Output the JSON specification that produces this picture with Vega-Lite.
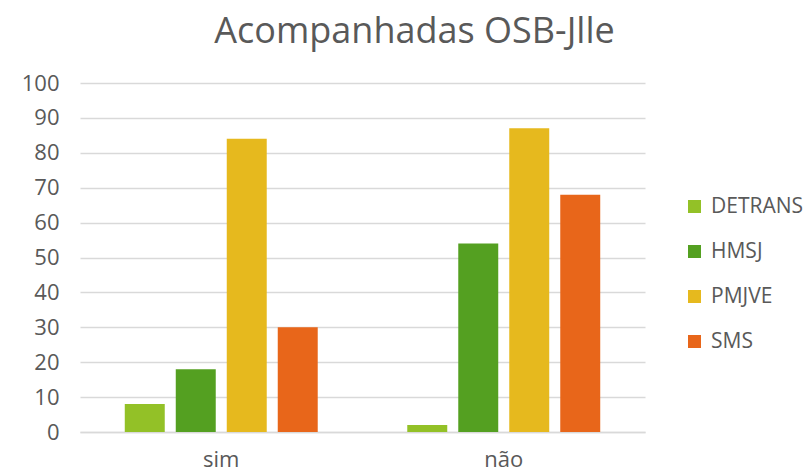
{
  "$schema": "https://vega.github.io/schema/vega-lite/v6.json",
  "width": 565,
  "height": 349,
  "autosize": "none",
  "padding": {"left": 80, "top": 83, "right": 160, "bottom": 40},
  "background": "white",
  "title": {
    "text": "Acompanhadas OSB-Jlle",
    "font": "Open Sans",
    "fontSize": 36,
    "fontWeight": "normal",
    "color": "#595959",
    "anchor": "middle",
    "frame": "group",
    "dx": 52,
    "offset": 21
  },
  "data": {
    "values": [
      {"cat": "sim", "serie": "DETRANS", "v": 8},
      {"cat": "sim", "serie": "HMSJ", "v": 18},
      {"cat": "sim", "serie": "PMJVE", "v": 84},
      {"cat": "sim", "serie": "SMS", "v": 30},
      {"cat": "não", "serie": "DETRANS", "v": 2},
      {"cat": "não", "serie": "HMSJ", "v": 54},
      {"cat": "não", "serie": "PMJVE", "v": 87},
      {"cat": "não", "serie": "SMS", "v": 68}
    ]
  },
  "mark": {"type": "bar"},
  "encoding": {
    "x": {
      "field": "cat",
      "type": "nominal",
      "sort": ["sim", "não"],
      "scale": {"paddingInner": 0, "paddingOuter": 0},
      "axis": {
        "title": null,
        "labelAngle": 0,
        "labelFont": "Open Sans",
        "labelFontSize": 22,
        "labelColor": "#595959",
        "labelPadding": 17,
        "ticks": false,
        "domainColor": "#d9d9d9",
        "domainWidth": 1.5
      }
    },
    "xOffset": {
      "field": "serie",
      "type": "nominal",
      "sort": ["DETRANS", "HMSJ", "PMJVE", "SMS"],
      "scale": {"paddingInner": 0.216, "paddingOuter": 0.878}
    },
    "y": {
      "field": "v",
      "type": "quantitative",
      "scale": {"domain": [0, 100], "nice": false},
      "axis": {
        "title": null,
        "values": [0, 10, 20, 30, 40, 50, 60, 70, 80, 90, 100],
        "labelFont": "Open Sans",
        "labelFontSize": 22,
        "labelColor": "#595959",
        "labelPadding": 21,
        "ticks": false,
        "domain": false,
        "gridColor": "#d9d9d9",
        "gridWidth": 1.5
      }
    },
    "color": {
      "field": "serie",
      "type": "nominal",
      "sort": ["DETRANS", "HMSJ", "PMJVE", "SMS"],
      "scale": {
        "domain": ["DETRANS", "HMSJ", "PMJVE", "SMS"],
        "range": ["#93c127", "#54a021", "#e6b91e", "#e8661a"]
      },
      "legend": {
        "title": null,
        "orient": "none",
        "legendX": 604,
        "legendY": 113,
        "symbolType": "square",
        "symbolSize": 169,
        "symbolStrokeWidth": 0,
        "labelFont": "Open Sans",
        "labelFontSize": 21,
        "labelColor": "#595959",
        "rowPadding": 23,
        "labelOffset": 6
      }
    }
  },
  "config": {
    "view": {"stroke": null}
  }
}
